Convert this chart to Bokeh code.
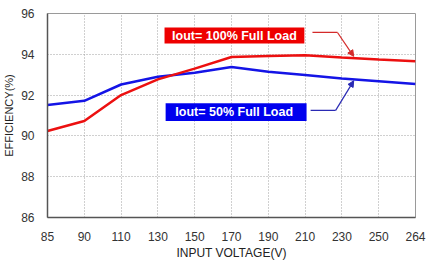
from bokeh.plotting import figure
from bokeh.models import Range1d, FixedTicker, Arrow, NormalHead
from bokeh.core.properties import value
from bokeh.embed import file_html
from bokeh.resources import INLINE

# ---- data ----
voltage_labels = ["85", "90", "110", "130", "150", "170", "190", "210", "230", "250", "264"]
full_load = [90.24, 90.73, 92.0, 92.77, 93.3, 93.87, 93.92, 93.95, 93.84, 93.74, 93.66]
half_load = [91.51, 91.72, 92.52, 92.9, 93.1, 93.38, 93.14, 92.98, 92.81, 92.68, 92.54]
y_ticks = [86, 88, 90, 92, 94, 96]
label_full = "Iout= 100% Full Load"
label_half = "Iout= 50%  Full Load"

xs = list(range(len(voltage_labels)))
FONT = "Liberation Sans"
RED = "#ec1010"
BLUE = "#1414e6"

p = figure(width=427, height=262, output_backend="svg", toolbar_location=None,
           x_range=Range1d(0, len(voltage_labels) - 1), y_range=Range1d(86, 96),
           min_border_left=47, min_border_right=12, min_border_top=13, min_border_bottom=45)
p.background_fill_color = "white"
p.border_fill_color = "white"
p.outline_line_color = "#9a9a9a"
p.outline_line_width = 1

p.xaxis.ticker = FixedTicker(ticks=xs)
p.xaxis.major_label_overrides = {i: s for i, s in enumerate(voltage_labels)}
p.yaxis.ticker = FixedTicker(ticks=y_ticks)

for ax in (p.xaxis[0], p.yaxis[0]):
    ax.axis_line_color = "#555555"
    ax.axis_line_width = 1.5
    ax.major_tick_line_color = None
    ax.minor_tick_line_color = None
    ax.major_tick_out = 0
    ax.major_tick_in = 0
    ax.minor_tick_out = 0
    ax.minor_tick_in = 0
    ax.major_label_text_font = FONT
    ax.major_label_text_font_size = "12px"
    ax.major_label_text_color = "#333333"
    ax.axis_label_text_font = FONT
    ax.axis_label_text_font_style = "normal"
    ax.axis_label_text_color = "#222222"

p.xaxis.major_label_standoff = 14
p.yaxis.major_label_standoff = 13
p.xaxis.axis_label = "INPUT VOLTAGE(V)"
p.xaxis.axis_label_text_font_size = "12px"
p.xaxis.axis_label_standoff = 2
p.yaxis.axis_label = "EFFICIENCY(%)"
p.yaxis.axis_label_text_font_size = "11px"
p.yaxis.axis_label_standoff = 3

p.grid.grid_line_color = "#a0a0a0"
p.grid.grid_line_dash = "1 2"
p.grid.grid_line_width = 1

# curves
p.line(xs, half_load, line_color=BLUE, line_width=2.5)
p.line(xs, full_load, line_color=RED, line_width=2.5)

# label boxes
p.quad(left=[3.18], right=[6.98], bottom=[94.53], top=[95.31], fill_color="#ee0000", line_color=None)
p.quad(left=[3.21], right=[7.04], bottom=[90.73], top=[91.6], fill_color="#0000ee", line_color=None)
p.text(x=[5.08], y=[94.92], text=[label_full], text_color="white", text_font=value(FONT),
       text_font_style="bold", text_font_size="12.5px", text_align="center", text_baseline="middle")
p.text(x=[5.12], y=[91.17], text=[label_half], text_color="white", text_font=value(FONT),
       text_font_style="bold", text_font_size="12.5px", text_align="center", text_baseline="middle")

# leader lines
p.line([7.20, 7.88], [95.07, 95.07], line_color="#d42a2a", line_width=1.2)
p.add_layout(Arrow(x_start=7.88, y_start=95.07, x_end=8.32, y_end=93.9,
                   line_color="#d42a2a", line_width=1.2,
                   end=NormalHead(size=6, fill_color="#d42a2a", line_color="#d42a2a")))
p.line([7.15, 7.83], [91.25, 91.25], line_color="#2a2ab4", line_width=1.2)
p.add_layout(Arrow(x_start=7.83, y_start=91.25, x_end=8.32, y_end=92.7,
                   line_color="#2a2ab4", line_width=1.2,
                   end=NormalHead(size=6, fill_color="#2a2ab4", line_color="#2a2ab4")))

open("out.html", "w").write(file_html(p, INLINE))
